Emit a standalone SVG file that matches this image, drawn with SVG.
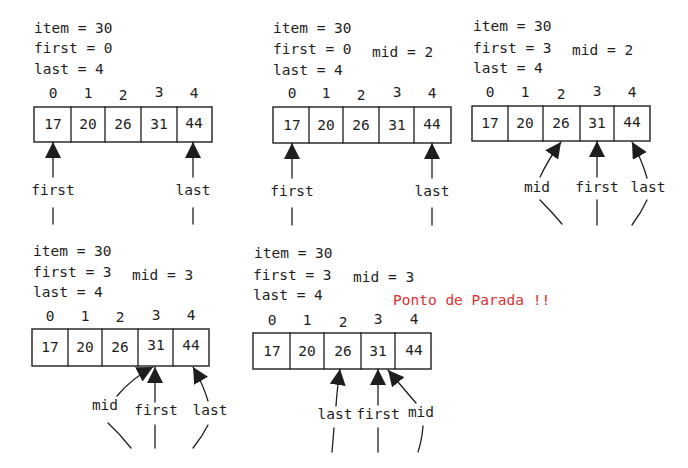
<svg xmlns="http://www.w3.org/2000/svg" width="688" height="468" viewBox="0 0 688 468">
<defs>
<style>
text{font-family:"DejaVu Sans Mono","Liberation Mono",monospace;font-size:14.5px;fill:#1e1e1e}
.c{text-anchor:middle}
.red{fill:#e03131}
.box{fill:#fff;stroke:#1e1e1e;stroke-width:1.4}
.ln{fill:none;stroke:#1e1e1e;stroke-width:1.3;stroke-linecap:round}
</style>
<marker id="ah" viewBox="0 0 16 16" refX="16" refY="8" markerWidth="16" markerHeight="16" markerUnits="userSpaceOnUse" orient="auto">
<path d="M0,0 L16,8 L0,16 z" fill="#1e1e1e"/>
</marker>
</defs>
<rect width="688" height="468" fill="#fff"/>

<g id="panel1">
<text x="34" y="33">item = 30</text>
<text x="34" y="53">first = 0</text>
<text x="34" y="74">last = 4</text>
<g class="c"><text x="53" y="98">0</text><text x="88" y="98">1</text><text x="123" y="100">2</text><text x="159" y="97">3</text><text x="194" y="98">4</text></g>
<rect class="box" x="34" y="107" width="178" height="35"/>
<path class="ln" d="M71,107V142M105,107V142M141,107V142M177,107V142"/>
<g class="c"><text x="53" y="129">17</text><text x="88" y="129">20</text><text x="123" y="129">26</text><text x="159" y="129">31</text><text x="194" y="128">44</text></g>
<text class="c" x="53" y="195">first</text>
<text class="c" x="193" y="195">last</text>
</g>

<g id="panel2">
<text x="273" y="33">item = 30</text>
<text x="273" y="54">first = 0</text>
<text x="372" y="57">mid = 2</text>
<text x="273" y="75">last = 4</text>
<g class="c"><text x="292" y="98">0</text><text x="326" y="98">1</text><text x="361" y="100">2</text><text x="397" y="97">3</text><text x="432" y="98">4</text></g>
<rect class="box" x="273" y="107" width="178" height="36"/>
<path class="ln" d="M309,107V143M343,107V143M379,107V143M414,107V143"/>
<g class="c"><text x="292" y="130">17</text><text x="326" y="130">20</text><text x="361" y="130">26</text><text x="397" y="130">31</text><text x="432" y="129">44</text></g>
<text class="c" x="292" y="196">first</text>
<text class="c" x="432" y="196">last</text>
</g>

<g id="panel3">
<text x="473" y="31">item = 30</text>
<text x="473" y="53">first = 3</text>
<text x="572" y="55">mid = 2</text>
<text x="473" y="73">last = 4</text>
<g class="c"><text x="490" y="97">0</text><text x="525" y="97">1</text><text x="561" y="99">2</text><text x="597" y="96">3</text><text x="632" y="97">4</text></g>
<rect class="box" x="472" y="106" width="178" height="35"/>
<path class="ln" d="M508,106V141M543,106V141M580,106V141M614,106V141"/>
<g class="c"><text x="490" y="128">17</text><text x="525" y="128">20</text><text x="561" y="128">26</text><text x="597" y="128">31</text><text x="632" y="127">44</text></g>
<text class="c" x="537" y="192">mid</text>
<text class="c" x="597" y="192">first</text>
<text class="c" x="648" y="192">last</text>
</g>

<g id="panel4">
<text x="33" y="256">item = 30</text>
<text x="33" y="277">first = 3</text>
<text x="132" y="280">mid = 3</text>
<text x="33" y="297">last = 4</text>
<g class="c"><text x="50" y="321">0</text><text x="85" y="321">1</text><text x="120" y="322">2</text><text x="156" y="320">3</text><text x="191" y="320">4</text></g>
<rect class="box" x="32" y="329" width="177" height="37"/>
<path class="ln" d="M68,329V366M102,329V366M138,329V366M173,329V366"/>
<g class="c"><text x="50" y="352">17</text><text x="85" y="352">20</text><text x="120" y="352">26</text><text x="156" y="350">31</text><text x="191" y="350">44</text></g>
<text class="c" x="105" y="410">mid</text>
<text class="c" x="156" y="415">first</text>
<text class="c" x="210" y="415">last</text>
</g>

<g id="panel5">
<text x="254" y="258">item = 30</text>
<text x="253" y="280">first = 3</text>
<text x="353" y="282">mid = 3</text>
<text x="253" y="300">last = 4</text>
<text class="red" x="393" y="305">Ponto de Parada !!</text>
<g class="c"><text x="272" y="325">0</text><text x="307" y="325">1</text><text x="343" y="327">2</text><text x="378" y="324">3</text><text x="414" y="324">4</text></g>
<rect class="box" x="253" y="333" width="178" height="36"/>
<path class="ln" d="M290,333V369M324,333V369M361,333V369M395,333V369"/>
<g class="c"><text x="272" y="356">17</text><text x="307" y="356">20</text><text x="343" y="356">26</text><text x="378" y="356">31</text><text x="414" y="355">44</text></g>
<text class="c" x="335" y="419">last</text>
<text class="c" x="378" y="419">first</text>
<text class="c" x="421" y="417">mid</text>
</g>

<g id="connectors">
<!-- panel 1 -->
<path class="ln" d="M53,177V142" marker-end="url(#ah)"/>
<path class="ln" d="M53,208V224"/>
<path class="ln" d="M193,177V142" marker-end="url(#ah)"/>
<path class="ln" d="M193,208V224"/>
<!-- panel 2 -->
<path class="ln" d="M292,178V143" marker-end="url(#ah)"/>
<path class="ln" d="M292,208V225"/>
<path class="ln" d="M432,178V143" marker-end="url(#ah)"/>
<path class="ln" d="M432,208V225"/>
<!-- panel 3 -->
<path class="ln" d="M540,177Q548,160 561,142" marker-end="url(#ah)"/>
<path class="ln" d="M540,200Q552,212 562,224"/>
<path class="ln" d="M597,177V141" marker-end="url(#ah)"/>
<path class="ln" d="M597,200V225"/>
<path class="ln" d="M647,178Q642,160 632,142" marker-end="url(#ah)"/>
<path class="ln" d="M647,200Q641,213 632,225"/>
<!-- panel 4 -->
<path class="ln" d="M117,396Q132,378 153,367" marker-end="url(#ah)"/>
<path class="ln" d="M108,423Q120,434 131,448"/>
<path class="ln" d="M155,402V367" marker-end="url(#ah)"/>
<path class="ln" d="M155,425V448"/>
<path class="ln" d="M208,401Q203,384 193,367" marker-end="url(#ah)"/>
<path class="ln" d="M208,425Q202,437 193,448"/>
<!-- panel 5 -->
<path class="ln" d="M336,406Q337,390 340,369" marker-end="url(#ah)"/>
<path class="ln" d="M334,428Q333,440 332,452"/>
<path class="ln" d="M378,405V369" marker-end="url(#ah)"/>
<path class="ln" d="M378,428V452"/>
<path class="ln" d="M416,403Q403,388 388,370" marker-end="url(#ah)"/>
<path class="ln" d="M423,426Q422,440 418,452"/>
</g>
</svg>
